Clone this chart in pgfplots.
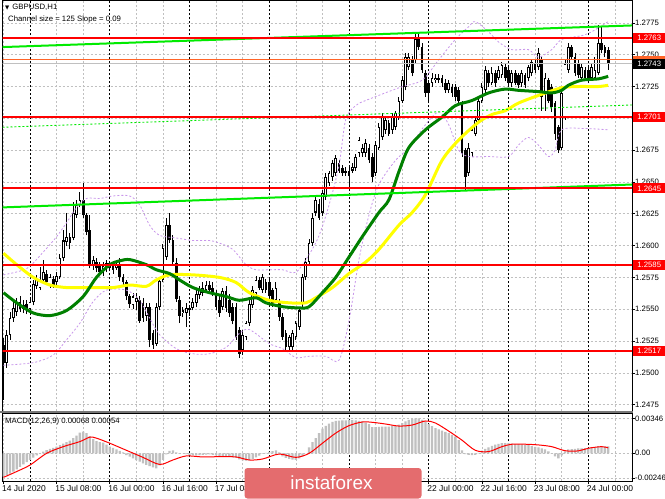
\documentclass[border=0pt]{standalone}
\usepackage{pgfplots}
\usepackage{pgfplotstable}
\pgfplotsset{compat=1.18}
\usepackage{fontspec}
\setmainfont{Liberation Sans}
\newfontfamily\symfont{DejaVu Sans}

\definecolor{lvlred}{RGB}{255,0,0}
\definecolor{chgreen}{RGB}{0,235,0}
\definecolor{magreen}{RGB}{0,128,0}
\definecolor{mayellow}{RGB}{255,255,0}
\definecolor{bandviolet}{RGB}{200,150,235}
\definecolor{gridgray}{RGB}{192,192,192}
\definecolor{silver}{RGB}{192,192,192}
\definecolor{askorange}{RGB}{255,100,40}
\definecolor{sepgray}{RGB}{120,120,120}
\definecolor{logored}{RGB}{228,108,110}

% GBPUSD H1 candles, bar 0 = 15 Jul 00:00
\pgfplotstableread{
i O H L C
-8 1.2522 1.2527 1.2479 1.2508
-7 1.2508 1.2534 1.2504 1.2530
-6 1.2530 1.2548 1.2526 1.2543
-5 1.2543 1.2557 1.2540 1.2551
-4 1.2548 1.2559 1.2545 1.2556
-3 1.2556 1.2560 1.2548 1.2550
-2 1.2553 1.2557 1.2547 1.2550
-1 1.2554 1.2557 1.2546 1.2549
0 1.2550 1.2559 1.2548 1.2556
1 1.2556 1.2573 1.2553 1.2570
2 1.2568 1.2577 1.2566 1.2574
3 1.2567 1.2583 1.2565 1.2572
4 1.2573 1.2589 1.2571 1.2579
5 1.2578 1.2581 1.2569 1.2571
6 1.2569 1.2578 1.2567 1.2575
7 1.2574 1.2576 1.2567 1.2569
8 1.2571 1.2579 1.2569 1.2576
9 1.2575 1.2593 1.2574 1.2590
10 1.2590 1.2612 1.2588 1.2604
11 1.2603 1.2626 1.2600 1.2607
12 1.2607 1.2610 1.2597 1.2602
13 1.2606 1.2634 1.2604 1.2626
14 1.2624 1.2636 1.2622 1.2632
15 1.2632 1.2642 1.2630 1.2636
16 1.2636 1.2649 1.2622 1.2624
17 1.2624 1.2626 1.2608 1.2611
18 1.2612 1.2624 1.2582 1.2585
19 1.2584 1.2592 1.2581 1.2589
20 1.2587 1.2590 1.2579 1.2582
21 1.2585 1.2587 1.2576 1.2579
22 1.2579 1.2587 1.2576 1.2584
23 1.2582 1.2589 1.2579 1.2586
24 1.2582 1.2588 1.2580 1.2586
25 1.2584 1.2587 1.2578 1.2581
26 1.2582 1.2587 1.2581 1.2585
27 1.2585 1.2590 1.2572 1.2575
28 1.2575 1.2578 1.2568 1.2571
29 1.2571 1.2573 1.2557 1.2560
30 1.2560 1.2562 1.2551 1.2554
31 1.2553 1.2563 1.2550 1.2560
32 1.2556 1.2563 1.2549 1.2559
33 1.2557 1.2560 1.2539 1.2541
34 1.2555 1.2559 1.2540 1.2543
35 1.2545 1.2555 1.2541 1.2552
36 1.2552 1.2555 1.2520 1.2526
37 1.2531 1.2534 1.2519 1.2522
38 1.2523 1.2555 1.2521 1.2552
39 1.2552 1.2575 1.2549 1.2572
40 1.2573 1.2601 1.2571 1.2598
41 1.2591 1.2622 1.2589 1.2616
42 1.2616 1.2626 1.2602 1.2604
43 1.2604 1.2608 1.2584 1.2587
44 1.2586 1.2590 1.2556 1.2558
45 1.2557 1.2560 1.2539 1.2545
46 1.2547 1.2552 1.2544 1.2549
47 1.2547 1.2555 1.2536 1.2551
48 1.2551 1.2553 1.2545 1.2549
49 1.2551 1.2559 1.2549 1.2556
50 1.2555 1.2565 1.2552 1.2562
51 1.2561 1.2568 1.2558 1.2565
52 1.2563 1.2571 1.2560 1.2567
53 1.2565 1.2572 1.2563 1.2569
54 1.2569 1.2572 1.2562 1.2565
55 1.2567 1.2571 1.2560 1.2563
56 1.2563 1.2565 1.2549 1.2552
57 1.2557 1.2560 1.2544 1.2547
58 1.2552 1.2567 1.2549 1.2564
59 1.2564 1.2568 1.2548 1.2551
60 1.2557 1.2562 1.2544 1.2547
61 1.2552 1.2555 1.2538 1.2541
62 1.2552 1.2555 1.2526 1.2528
63 1.2534 1.2536 1.2512 1.2515
64 1.2518 1.2534 1.2514 1.2530
65 1.2528 1.2541 1.2526 1.2539
66 1.2539 1.2557 1.2537 1.2554
67 1.2553 1.2568 1.2551 1.2565
68 1.2563 1.2576 1.2560 1.2573
69 1.2573 1.2575 1.2565 1.2567
70 1.2565 1.2578 1.2563 1.2575
71 1.2571 1.2574 1.2563 1.2565
72 1.2571 1.2574 1.2557 1.2560
73 1.2565 1.2567 1.2552 1.2555
74 1.2557 1.2571 1.2555 1.2567
75 1.2555 1.2558 1.2541 1.2544
76 1.2544 1.2547 1.2526 1.2528
77 1.2531 1.2534 1.2517 1.2520
78 1.2520 1.2530 1.2518 1.2528
79 1.2520 1.2534 1.2518 1.2531
80 1.2528 1.2541 1.2526 1.2539
81 1.2536 1.2552 1.2534 1.2549
82 1.2555 1.2578 1.2552 1.2575
83 1.2575 1.2590 1.2573 1.2587
84 1.2587 1.2605 1.2585 1.2602
85 1.2602 1.2626 1.2600 1.2622
86 1.2626 1.2639 1.2623 1.2636
87 1.2633 1.2637 1.2620 1.2622
88 1.2626 1.2644 1.2623 1.2641
89 1.2638 1.2657 1.2636 1.2654
90 1.2649 1.2659 1.2647 1.2657
91 1.2654 1.2667 1.2651 1.2665
92 1.2657 1.2671 1.2655 1.2669
93 1.2665 1.2667 1.2657 1.2659
94 1.2661 1.2663 1.2655 1.2657
95 1.2659 1.2662 1.2655 1.2657
96 1.2659 1.2662 1.2645 1.2655
97 1.2659 1.2665 1.2657 1.2662
98 1.2661 1.2672 1.2659 1.2670
99 1.2673 1.2685 1.2670 1.2683
100 1.2673 1.2680 1.2670 1.2677
101 1.2673 1.2684 1.2670 1.2681
102 1.2677 1.2680 1.2665 1.2667
103 1.2670 1.2673 1.2650 1.2654
104 1.2657 1.2682 1.2655 1.2679
105 1.2677 1.2696 1.2675 1.2693
106 1.2685 1.2704 1.2683 1.2701
107 1.2691 1.2702 1.2688 1.2699
108 1.2696 1.2699 1.2686 1.2688
109 1.2691 1.2704 1.2688 1.2701
110 1.2693 1.2706 1.2691 1.2704
111 1.2701 1.2717 1.2699 1.2714
112 1.2714 1.2733 1.2712 1.2730
113 1.2725 1.2751 1.2722 1.2748
114 1.2740 1.2751 1.2738 1.2748
115 1.2746 1.2749 1.2733 1.2736
116 1.2746 1.2767 1.2743 1.2762
117 1.2764 1.2768 1.2754 1.2756
118 1.2756 1.2759 1.2736 1.2738
119 1.2736 1.2738 1.2717 1.2720
120 1.2728 1.2730 1.2712 1.2720
121 1.2728 1.2736 1.2725 1.2732
122 1.2730 1.2735 1.2728 1.2732
123 1.2732 1.2735 1.2728 1.2730
124 1.2732 1.2734 1.2725 1.2728
125 1.2728 1.2731 1.2720 1.2722
126 1.2722 1.2730 1.2720 1.2728
127 1.2725 1.2727 1.2717 1.2720
128 1.2725 1.2727 1.2714 1.2717
129 1.2722 1.2725 1.2712 1.2714
130 1.2712 1.2714 1.2670 1.2673
131 1.2675 1.2677 1.2644 1.2654
132 1.2657 1.2681 1.2655 1.2677
133 1.2673 1.2693 1.2670 1.2691
134 1.2688 1.2701 1.2686 1.2699
135 1.2699 1.2717 1.2696 1.2714
136 1.2714 1.2728 1.2712 1.2725
137 1.2722 1.2741 1.2720 1.2738
138 1.2736 1.2738 1.2725 1.2728
139 1.2728 1.2740 1.2726 1.2736
140 1.2736 1.2738 1.2725 1.2728
141 1.2732 1.2741 1.2730 1.2738
142 1.2734 1.2744 1.2732 1.2742
143 1.2740 1.2743 1.2729 1.2732
144 1.2738 1.2740 1.2725 1.2728
145 1.2728 1.2738 1.2725 1.2736
146 1.2736 1.2738 1.2726 1.2728
147 1.2734 1.2736 1.2724 1.2726
148 1.2728 1.2738 1.2725 1.2736
149 1.2734 1.2736 1.2724 1.2726
150 1.2732 1.2742 1.2729 1.2740
151 1.2736 1.2747 1.2733 1.2744
152 1.2743 1.2746 1.2736 1.2738
153 1.2740 1.2755 1.2738 1.2751
154 1.2746 1.2748 1.2706 1.2717
155 1.2720 1.2736 1.2706 1.2732
156 1.2730 1.2732 1.2712 1.2714
157 1.2725 1.2727 1.2705 1.2709
158 1.2712 1.2714 1.2683 1.2688
159 1.2693 1.2695 1.2673 1.2675
160 1.2677 1.2722 1.2675 1.2720
161 1.2701 1.2746 1.2699 1.2743
162 1.2738 1.2759 1.2736 1.2756
163 1.2756 1.2758 1.2746 1.2748
164 1.2748 1.2751 1.2733 1.2736
165 1.2743 1.2746 1.2732 1.2734
166 1.2732 1.2743 1.2730 1.2740
167 1.2738 1.2740 1.2729 1.2732
168 1.2738 1.2740 1.2728 1.2730
169 1.2732 1.2743 1.2730 1.2740
170 1.2732 1.2748 1.2730 1.2738
171 1.2736 1.2773 1.2734 1.2759
172 1.2759 1.2772 1.2751 1.2754
173 1.2756 1.2758 1.2748 1.2751
174 1.2754 1.2756 1.2738 1.2743
}\candles

% MACD(12,26,9) histogram
\pgfplotstableread{
i h
-8 -0.00231
-7 -0.00215
-6 -0.00200
-5 -0.00180
-4 -0.00160
-3 -0.00135
-2 -0.00110
-1 -0.00088
0 -0.00066
1 -0.00043
2 -0.00020
3 -0.00002
4 0.00017
5 0.00031
6 0.00045
7 0.00055
8 0.00066
9 0.00080
10 0.00095
11 0.00110
12 0.00125
13 0.00150
14 0.00175
15 0.00205
16 0.00215
17 0.00200
18 0.00170
19 0.00140
20 0.00120
21 0.00112
22 0.00105
23 0.00085
24 0.00066
25 0.00053
26 0.00040
27 0.00025
28 0.00010
29 -0.00017
30 -0.00033
31 -0.00050
32 -0.00067
33 -0.00083
34 -0.00099
35 -0.00115
36 -0.00127
37 -0.00139
38 -0.00150
39 -0.00120
40 -0.00066
41 -0.00010
42 0.00025
43 0.00030
44 0.00010
45 -0.00005
46 0.00000
47 -0.00008
48 -0.00015
49 -0.00018
50 -0.00020
51 -0.00018
52 -0.00015
53 -0.00012
54 -0.00010
55 -0.00015
56 -0.00020
57 -0.00025
58 -0.00030
59 -0.00032
60 -0.00035
61 -0.00040
62 -0.00045
63 -0.00060
64 -0.00070
65 -0.00072
66 -0.00070
67 -0.00055
68 -0.00040
69 -0.00022
70 -0.00005
71 0.00005
72 0.00015
73 0.00022
74 0.00030
75 0.00010
76 -0.00030
77 -0.00045
78 -0.00055
79 -0.00062
80 -0.00066
81 -0.00050
82 -0.00030
83 0.00000
84 0.00060
85 0.00110
86 0.00150
87 0.00200
88 0.00245
89 0.00272
90 0.00295
91 0.00310
92 0.00320
93 0.00323
94 0.00325
95 0.00327
96 0.00330
97 0.00328
98 0.00325
99 0.00322
100 0.00315
101 0.00305
102 0.00290
103 0.00260
104 0.00260
105 0.00262
106 0.00265
107 0.00265
108 0.00265
109 0.00270
110 0.00275
111 0.00285
112 0.00300
113 0.00315
114 0.00330
115 0.00340
116 0.00346
117 0.00345
118 0.00330
119 0.00310
120 0.00290
121 0.00270
122 0.00250
123 0.00238
124 0.00225
125 0.00212
126 0.00200
127 0.00182
128 0.00165
129 0.00130
130 0.00030
131 -0.00007
132 -0.00015
133 -0.00017
134 -0.00015
135 0.00005
136 0.00026
137 0.00045
138 0.00060
139 0.00073
140 0.00085
141 0.00093
142 0.00100
143 0.00100
144 0.00100
145 0.00096
146 0.00092
147 0.00090
148 0.00088
149 0.00084
150 0.00080
151 0.00072
152 0.00065
153 0.00058
154 0.00050
155 0.00040
156 0.00020
157 -0.00005
158 -0.00030
159 -0.00050
160 -0.00020
161 0.00020
162 0.00040
163 0.00042
164 0.00045
165 0.00048
166 0.00050
167 0.00052
168 0.00055
169 0.00058
170 0.00060
171 0.00072
172 0.00070
173 0.00069
174 0.00068
}\macdhist

\tikzset{
  pricebox/.style={anchor=west, xshift=1bp, minimum width=32bp,
    minimum height=10bp, inner sep=0pt, text=white,
    font=\fontsize{7.8}{9}\selectfont},
}

\begin{document}
\begin{tikzpicture}[x=1bp,y=1bp]
\useasboundingbox (0bp,0bp) rectangle (665bp,-499bp);
\fill[white] (0bp,0bp) rectangle (665bp,-499bp);
\pgfplotsset{
  mt/.style={
    scale only axis, width=629.5bp,
    xmin=-8.28, xmax=181.16,
    clip mode=individual,
    axis line style={black, line width=0.8bp},
    tick align=outside, major tick length=3bp,
    tick style={black, line width=0.6bp},
    xmajorgrids=true, ymajorgrids=true,
    major grid style={gridgray, line width=0.6bp, dash pattern=on 2bp off 2bp},
    tick label style={font=\fontsize{7.8}{9}\selectfont},
    ytick pos=right, yticklabel pos=right,
    yticklabel style={anchor=west, inner sep=0pt},
    scaled y ticks=false,
    extra x tick labels={},
    extra x tick style={grid=major, major tick length=0pt,
      major grid style={black, line width=0.7bp, dash pattern=on 2bp off 2bp}},
  },
  candle/.style={draw=none, error bars/y dir=plus, error bars/y explicit,
    error bars/error mark=none},
  level/.style={lvlred, line width=2bp},
  band/.style={bandviolet, line width=0.8bp, dash pattern=on 2bp off 2bp, smooth},
}

% ---------- price panel ----------
\begin{axis}[mt, at={(2.5bp,0bp)}, anchor=north west, height=411bp,
  ymin=1.2470, ymax=1.2793,
  xtick={-8,0,...,176}, xticklabels={}, xtick style={draw=none},
  extra x ticks={0,24,...,168},
  ytick={1.2475,1.2500,1.2525,1.2550,1.2575,1.2600,1.2625,1.2650,1.2675,1.2700,1.2725,1.2750,1.2775},
  yticklabels={1.2475,1.2500,1.2525,1.2550,1.2575,1.2600,1.2625,1.2650,1.2675,,1.2725,1.2750,1.2775},
]
% wicks
\addplot[candle, error bars/error bar style={draw=black, line width=0.9bp, solid}]
  table[x=i, y=L, y error expr=\thisrow{H}-\thisrow{L}] {\candles};
% bodies
\addplot[candle, error bars/error bar style={draw=black, line width=2.7bp, solid}]
  table[x=i, y expr={min(\thisrow{O},\thisrow{C})},
        y error expr={max(abs(\thisrow{C}-\thisrow{O}),0.00004)}] {\candles};
% hollow bullish bodies
\addplot[candle, error bars/error bar style={draw=white, line width=1.1bp, solid}]
  table[x=i, y expr={min(\thisrow{O},\thisrow{C})+0.00008},
        y error expr={\thisrow{C}>\thisrow{O} ? max(\thisrow{C}-\thisrow{O}-0.00016,0) : 0}] {\candles};

% envelope bands
\addplot[band] coordinates {(-8,1.2577) (-1,1.2582) (4,1.2595) (8,1.2607) (11,1.2618) (14,1.2630) (17,1.2637) (21,1.2637) (25,1.2639) (30,1.2639) (33,1.2632) (36,1.2616) (39,1.2608) (44,1.2606) (49,1.2604) (54,1.2604) (57,1.2602) (61,1.2597) (65,1.2585) (68,1.2581) (72,1.2581) (76,1.2581) (80,1.2579) (84,1.2593) (87,1.2608) (90,1.2632) (93,1.2663) (95,1.2699) (98,1.2710) (101,1.2714) (111,1.2724) (118,1.2730) (123,1.2746) (128,1.2762) (132,1.2772) (134,1.2776) (138,1.2768) (141,1.2760) (145,1.2754) (150,1.2754) (153,1.2748) (157,1.2754) (160,1.2762) (166,1.2765) (169,1.2768) (174,1.2776)};
\addplot[band] coordinates {(-8,1.2506) (1,1.2508) (7,1.2514) (11,1.2526) (15,1.2539) (19,1.2556) (23,1.2565) (29,1.2565) (33,1.2557) (36,1.2543) (39,1.2530) (44,1.2519) (49,1.2515) (54,1.2515) (59,1.2520) (63,1.2531) (66,1.2534) (72,1.2523) (76,1.2519) (80,1.2512) (84,1.2513) (89,1.2513) (93,1.2510) (96,1.2541) (99,1.2589) (102,1.2624) (105,1.2648) (110,1.2667) (114,1.2677) (119,1.2695) (123,1.2705) (126,1.2695) (129,1.2675) (132,1.2670) (138,1.2670) (144,1.2670) (147,1.2679) (150,1.2685) (153,1.2679) (156,1.2670) (158,1.2675) (160,1.2691) (167,1.2692) (174,1.2691)};

% moving averages
\addplot[mayellow, line width=3bp, smooth] coordinates {(-8,1.2594) (-4,1.2585) (1,1.2575) (6,1.2569) (11,1.2567) (16,1.2567) (21,1.2567) (25,1.2567) (30,1.2569) (35,1.2568) (38,1.2573) (42,1.2577) (49,1.2577) (57,1.2575) (62,1.2571) (66,1.2563) (72,1.2557) (78,1.2555) (83,1.2555) (86,1.2559) (91,1.2567) (96,1.2578) (101,1.2587) (105,1.2597) (111,1.2616) (115,1.2626) (119,1.2640) (124,1.2667) (129,1.2683) (135,1.2697) (139,1.2703) (143,1.2706) (147,1.2712) (153,1.2718) (160,1.2724) (165,1.2725) (171,1.2725) (174,1.2726)};
\addplot[magreen, line width=3bp, smooth] coordinates {(-8,1.2563) (-4,1.2555) (1,1.2547) (6,1.2545) (11,1.2549) (16,1.2560) (20,1.2575) (24,1.2585) (27,1.2588) (30,1.2589) (35,1.2585) (38,1.2581) (42,1.2578) (45,1.2573) (49,1.2567) (54,1.2563) (59,1.2560) (63,1.2557) (68,1.2559) (71,1.2555) (76,1.2552) (81,1.2551) (84,1.2552) (88,1.2563) (92,1.2575) (96,1.2591) (100,1.2607) (105,1.2626) (108,1.2636) (111,1.2658) (114,1.2677) (119,1.2691) (124,1.2701) (128,1.2710) (133,1.2714) (138,1.2720) (143,1.2723) (147,1.2722) (153,1.2721) (157,1.2720) (160,1.2722) (162,1.2726) (166,1.2730) (171,1.2731) (174,1.2733)};

% regression channel
\addplot[chgreen, line width=2bp] coordinates {(-8.28,1.2756) (181.16,1.2773)};
\addplot[chgreen, line width=2bp] coordinates {(-8.28,1.2630) (181.16,1.2648)};
\addplot[chgreen, line width=0.9bp, dash pattern=on 2bp off 2bp] coordinates {(-8.28,1.2693) (181.16,1.27105)};

% levels
\addplot[level] coordinates {(-9,1.2763) (182,1.2763)};
\addplot[level] coordinates {(-9,1.2701) (182,1.2701)};
\addplot[level] coordinates {(-9,1.2645) (182,1.2645)};
\addplot[level] coordinates {(-9,1.2585) (182,1.2585)};
\addplot[level] coordinates {(-9,1.2517) (182,1.2517)};
\addplot[askorange, line width=0.8bp] coordinates {(-9,1.27465) (182,1.27465)};
\addplot[gridgray, line width=0.8bp] coordinates {(-9,1.2743) (182,1.2743)};

% price boxes
\node[pricebox, fill=lvlred] at (axis cs:181.16,1.2763) {1.2763};
\node[pricebox, fill=lvlred] at (axis cs:181.16,1.2701) {1.2701};
\node[pricebox, fill=lvlred] at (axis cs:181.16,1.2645) {1.2645};
\node[pricebox, fill=lvlred] at (axis cs:181.16,1.2585) {1.2585};
\node[pricebox, fill=lvlred] at (axis cs:181.16,1.2517) {1.2517};
\node[pricebox, fill=askorange, minimum height=8bp] at (axis cs:181.16,1.27458) {};
\node[pricebox, fill=black] at (axis cs:181.16,1.2743) {1.2743};
\end{axis}

% ---------- MACD panel ----------
\begin{axis}[mt, at={(2.5bp,-413bp)}, anchor=north west, height=68bp,
  ymin=-0.00274, ymax=0.00399,
  xtick={-8,8,...,168}, xtick pos=bottom,
  xticklabels={14 Jul 2020,15 Jul 08:00,16 Jul 00:00,16 Jul 16:00,17 Jul 08:00,,,,22 Jul 00:00,22 Jul 16:00,23 Jul 08:00,24 Jul 00:00},
  x tick label style={anchor=north west, inner sep=0pt, xshift=-1.5bp, yshift=-1.5bp,
    font=\fontsize{8.5}{10}\selectfont},
  minor xtick={0,16,...,176}, xminorgrids=true, minor tick length=0pt,
  minor grid style={gridgray, line width=0.6bp, dash pattern=on 2bp off 2bp},
  extra x ticks={0,24,...,168},
  ytick={-0.00246,0,0.00346}, yticklabels={-0.00246,0.00,0.00346},
]
\addplot[ybar, bar width=2.3bp, fill=silver, draw=none] table[x=i, y=h] {\macdhist};
\addplot[lvlred, line width=1bp, smooth] coordinates {(-8,-0.00238) (-4,-0.00180) (0,-0.00116) (5,0.00000) (10,0.00066) (15,0.00116) (18,0.00160) (20,0.00150) (24,0.00100) (29,0.00030) (34,-0.00040) (39,-0.00110) (43,-0.00066) (47,-0.00026) (52,-0.00036) (57,-0.00033) (62,-0.00036) (66,-0.00066) (70,-0.00056) (75,-0.00007) (80,-0.00040) (84,0.00000) (88,0.00100) (92,0.00200) (96,0.00274) (100,0.00310) (103,0.00307) (107,0.00290) (111,0.00270) (115,0.00280) (119,0.00320) (122,0.00300) (126,0.00220) (130,0.00130) (134,0.00030) (138,0.00017) (142,0.00066) (145,0.00090) (149,0.00090) (153,0.00083) (157,0.00066) (161,0.00026) (165,0.00024) (168,0.00050) (172,0.00066) (174,0.00054)};
\end{axis}

% panel separator
\draw[sepgray, line width=2.5bp] (0bp,-411.8bp) -- (632.5bp,-411.8bp);

% titles
\node[anchor=west, inner sep=0pt, font=\fontsize{7.8}{9}\selectfont] at (5bp,-7bp)
  {{\symfont\fontsize{5.5}{6}\selectfont ▼}\hspace{3bp}GBPUSD,H1};
\node[anchor=west, inner sep=0pt, font=\fontsize{7.8}{9}\selectfont] at (8bp,-19.5bp)
  {Channel size = 125 Slope = 0.09};
\node[anchor=west, inner sep=0pt, font=\fontsize{7.8}{9}\selectfont] at (5bp,-421bp)
  {MACD(12,26,9) 0.00068 0.00054};

% watermark
\fill[logored, rounded corners=3bp] (244.5bp,-468bp) rectangle (421.5bp,-498.5bp);
\node[text=white, inner sep=0pt, font=\fontsize{19}{19}\selectfont] at (331.5bp,-482.5bp) {instaforex};
\end{tikzpicture}
\end{document}
